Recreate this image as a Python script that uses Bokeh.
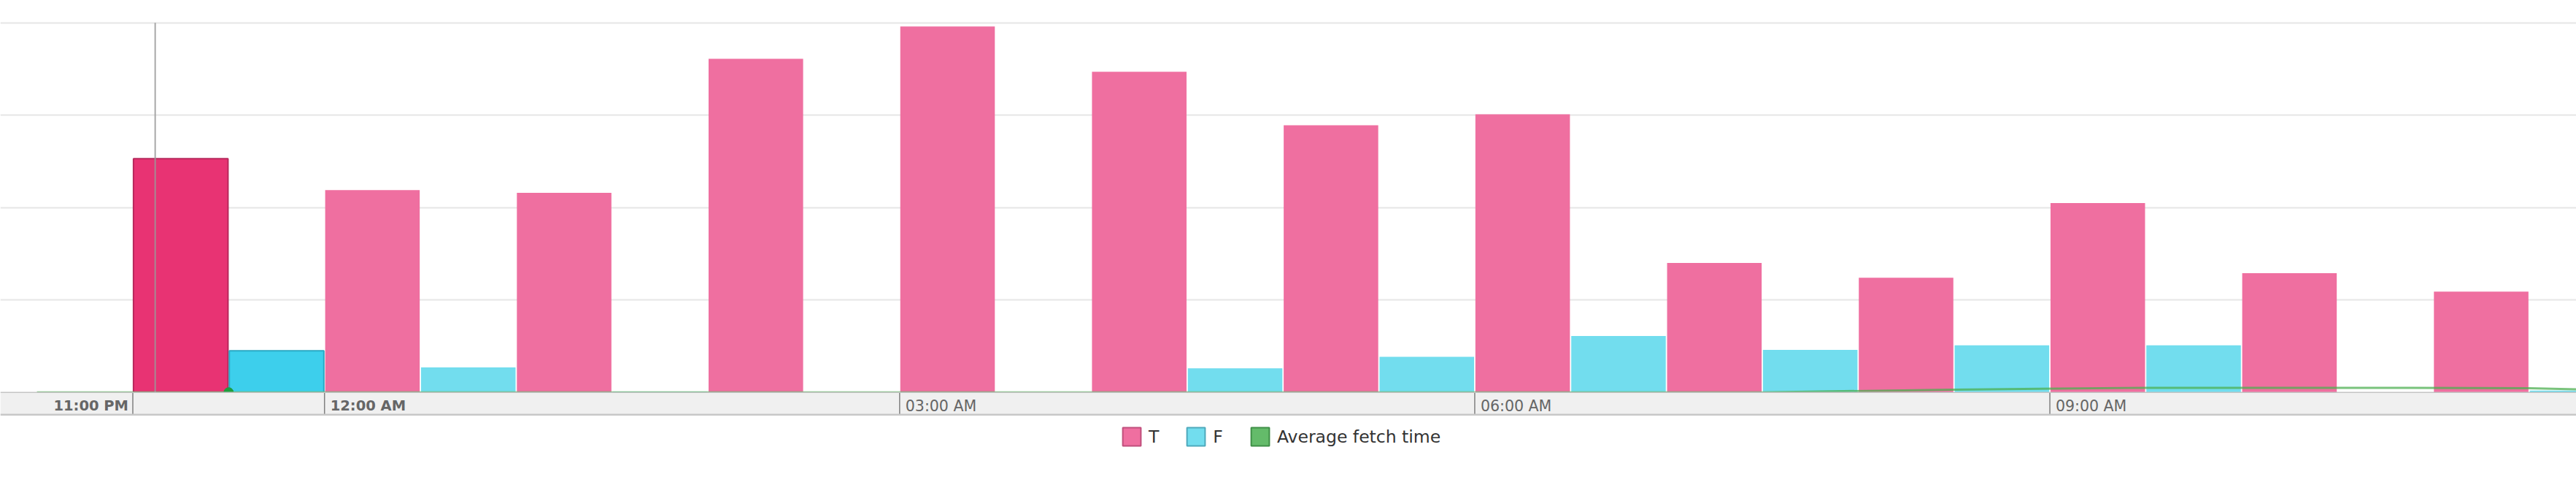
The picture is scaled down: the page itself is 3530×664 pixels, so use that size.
import pandas as pd
from bokeh.plotting import figure
from bokeh.models import Range1d, FixedTicker, Grid, Span, Legend, LegendItem
from bokeh.core.properties import value
from bokeh.embed import file_html
from bokeh.resources import INLINE

# ---------------- data ----------------
hour_labels = ["11 PM", "12 AM", "1 AM", "2 AM", "3 AM", "4 AM", "5 AM",
               "6 AM", "7 AM", "8 AM", "9 AM", "10 AM", "11 AM"]
hour_start = pd.date_range("2021-03-01 23:00", periods=len(hour_labels), freq="h")
t_counts = [25.3, 21.9, 21.6, 36.1, 39.6, 34.7, 28.9, 30.1, 14.0, 12.4, 20.5, 12.9, 10.9]
f_counts = [4.5, 2.7, 0.1, 0.0, 0.0, 2.6, 3.85, 6.1, 4.6, 5.1, 5.1, 0.0, 0.2]

fetch_points = pd.date_range("2021-03-01 22:30", periods=15, freq="h")
avg_fetch = [0.0, 0.0, 0.0, 0.0, 0.0, 0.0, 0.0, 0.0, 0.0, 0.0, 0.3, 0.5, 0.5, 0.45, 0.0]

tick_times = pd.to_datetime(["2021-03-01 23:00", "2021-03-02 00:00", "2021-03-02 03:00",
                             "2021-03-02 06:00", "2021-03-02 09:00"])
tick_labels = ["11:00 PM", "12:00 AM", "03:00 AM", "06:00 AM", "09:00 AM"]
grid_values = [10, 20, 30, 40]
hover_time = pd.Timestamp("2021-03-01 23:07")
hover_index = 0

# ---------------- layout constants ----------------
W, H = 3530, 660
PX_PER_HOUR = 262.7
FIRST_TICK_PX = 181.5
PX_PER_UNIT = 12.65
ZERO_PX = 536.7
BAND_PX = 30.6
LABEL_PX = 18.5
HOUR_MS = 3600000.0


def ms(idx):
    return [t.value / 1e6 for t in idx]


x_start = hour_start[0].value / 1e6 - FIRST_TICK_PX / PX_PER_HOUR * HOUR_MS
x_end = x_start + W / PX_PER_HOUR * HOUR_MS
y_end = ZERO_PX / PX_PER_UNIT
y_start = -(H - ZERO_PX) / PX_PER_UNIT
band_bottom = -BAND_PX / PX_PER_UNIT
label_y = -LABEL_PX / PX_PER_UNIT

half = HOUR_MS / 2
bar_w = half * (1 - 1.8 / (PX_PER_HOUR / 2))
start_ms = ms(hour_start)
t_x = [s + half / 2 for s in start_ms]
f_x = [s + 3 * half / 2 for s in start_ms]

T_COL, T_HL, T_LINE = "#EF6FA0", "#E83373", "#B8285C"
F_COL, F_HL, F_LINE = "#72DDEE", "#3DCFEC", "#2AA9C4"
G_COL = "#64BB6A"

p = figure(width=W, height=H, x_range=Range1d(x_start, x_end), y_range=Range1d(y_start, y_end),
           x_axis_location=None, y_axis_location=None, toolbar_location=None,
           output_backend="svg", min_border=0, outline_line_color=None,
           background_fill_color="white", border_fill_color="white")
p.xgrid.visible = False
p.ygrid.visible = False
p.add_layout(Grid(dimension=1, ticker=FixedTicker(ticks=grid_values),
                  grid_line_color="#E6E6E6", grid_line_width=2))

# bars (normal)
p.vbar(x=t_x[1:], top=t_counts[1:], width=bar_w, fill_color=T_COL, line_color=None)
p.vbar(x=f_x[1:], top=f_counts[1:], width=bar_w, fill_color=F_COL, line_color=None)
# bars (hovered hour)
p.vbar(x=t_x[hover_index:hover_index + 1], top=t_counts[hover_index:hover_index + 1], width=bar_w,
       fill_color=T_HL, line_color=T_LINE, line_width=2)
p.vbar(x=f_x[hover_index:hover_index + 1], top=f_counts[hover_index:hover_index + 1], width=bar_w,
       fill_color=F_HL, line_color=F_LINE, line_width=2)

# average fetch time
fx = ms(fetch_points)
p.line(x=fx, y=avg_fetch, line_color="#4CAF50", line_alpha=0.75, line_width=3)
p.scatter(x=fx[hover_index + 1:hover_index + 2], y=avg_fetch[hover_index + 1:hover_index + 2],
          size=13, fill_color="#1E9E3E", line_color="#1E9E3E")

# crosshair
hx = hover_time.value / 1e6
p.segment(x0=[hx], y0=[0], x1=[hx], y1=[max(grid_values)], line_color="#999999",
          line_alpha=0.85, line_width=2)

# x axis band
p.quad(left=[x_start], right=[x_end], top=[0], bottom=[band_bottom],
       fill_color="#F0F0F0", line_color=None)
p.add_layout(Span(location=0, dimension="width", line_color="#C4C4C4", line_width=1.5))
p.add_layout(Span(location=band_bottom, dimension="width", line_color="#C8C8C8", line_width=2.5))
tx = ms(tick_times)
p.segment(x0=tx, y0=[0] * len(tx), x1=tx, y1=[band_bottom] * len(tx),
          line_color="#808080", line_width=1.5)

font = value("DejaVu Sans")
p.text(x=tx[:1], y=[label_y], text=tick_labels[:1], text_font=font, text_font_size="19.5px",
       text_font_style="bold", text_color="#666666", text_align="right", x_offset=-6,
       text_baseline="alphabetic")
p.text(x=tx[1:2], y=[label_y], text=tick_labels[1:2], text_font=font, text_font_size="19.5px",
       text_font_style="bold", text_color="#666666", text_align="left", x_offset=8,
       text_baseline="alphabetic")
p.text(x=tx[2:], y=[label_y] * len(tx[2:]), text=tick_labels[2:], text_font=font,
       text_font_size="20.5px", text_color="#666666", text_align="left", x_offset=8,
       text_baseline="alphabetic")

# legend proxies (hidden renderers, shown only as legend swatches)
r_t = p.vbar(x=t_x[:1], top=t_counts[:1], width=bar_w, fill_color=T_COL, line_color="#C04F7C",
             line_width=2, visible=False)
r_f = p.vbar(x=f_x[:1], top=f_counts[:1], width=bar_w, fill_color=F_COL, line_color="#4EA9BC",
             line_width=2, visible=False)
r_g = p.vbar(x=fx[:1], top=avg_fetch[:1], width=bar_w, fill_color=G_COL, line_color="#3F8F47",
             line_width=2, visible=False)
legend = Legend(items=[LegendItem(label="T", renderers=[r_t]),
                       LegendItem(label="F", renderers=[r_f]),
                       LegendItem(label="Average fetch time", renderers=[r_g])],
                orientation="horizontal", location=(1535, H - 613.3),
                glyph_width=31, glyph_height=31, label_standoff=8, spacing=35,
                padding=0, margin=0, label_width=0, click_policy="none",
                label_text_font="DejaVu Sans", label_text_font_size="23.5px",
                label_text_color="#333333", border_line_color=None, background_fill_alpha=0)
p.add_layout(legend)

open("out.html", "w").write(file_html(p, INLINE))
